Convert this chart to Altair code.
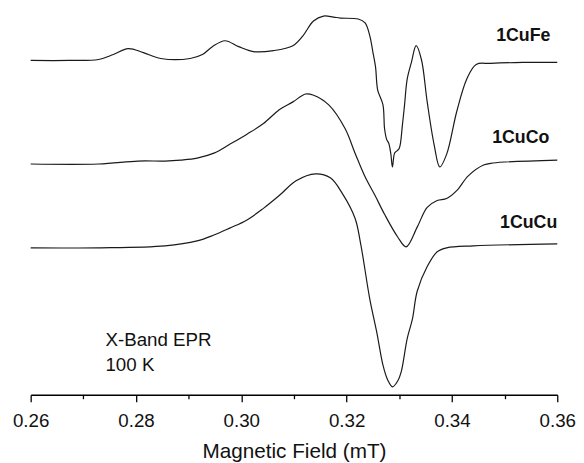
import altair as alt
import pandas as pd

# ---- data (field in mT, signal in arbitrary units) ----
fe_field = [0.2600, 0.2673, 0.2729, 0.2757, 0.2785, 0.2814, 0.2847, 0.2903, 0.2926, 0.2945,
            0.2969, 0.2995, 0.3023, 0.3061, 0.3098, 0.3117, 0.3137, 0.3156, 0.3175, 0.3188,
            0.3222, 0.3235, 0.3244, 0.3250, 0.3255, 0.3259, 0.3269, 0.3272, 0.3276, 0.3280,
            0.3284, 0.3287, 0.3291, 0.3295, 0.3300, 0.3306, 0.3310, 0.3315, 0.3323, 0.3332,
            0.3342, 0.3353, 0.3366, 0.3377, 0.3390, 0.3409, 0.3428, 0.3446, 0.3473, 0.3534,
            0.3600]
fe_signal = [0, 0, 1, 6, 12, 8, 2, 2, 6, 14,
             20, 14, 9, 10, 15, 25, 40, 45, 44, 43,
             42, 38, 25, 8, -7, -30, -45, -69, -80, -84,
             -95, -108, -94, -92, -89, -65, -45, -19, -2, 15,
             1, -42, -85, -108, -95, -52, -19, -4, -3, -2,
             -2]

co_field = [0.2600, 0.2729, 0.2804, 0.2855, 0.2885, 0.2916, 0.2948, 0.2978, 0.3010, 0.3042,
            0.3072, 0.3098, 0.3122, 0.3136, 0.3166, 0.3197, 0.3216, 0.3235, 0.3254, 0.3272,
            0.3297, 0.3313, 0.3334, 0.3353, 0.3372, 0.3390, 0.3409, 0.3431, 0.3460, 0.3478,
            0.3600]
co_signal = [0, 0, 3, 3, 4, 6, 11, 20, 30, 41,
             55, 63, 71, 70, 60, 36, 11, -13, -32, -51,
             -74, -84, -64, -44, -37, -35, -27, -12, -1, 1,
             4]

cu_field = [0.2600, 0.2729, 0.2855, 0.2916, 0.2948, 0.2978, 0.3010, 0.3042, 0.3072, 0.3104,
            0.3141, 0.3169, 0.3192, 0.3216, 0.3227, 0.3244, 0.3257, 0.3269, 0.3278, 0.3287,
            0.3297, 0.3304, 0.3315, 0.3325, 0.3334, 0.3353, 0.3372, 0.3390, 0.3441, 0.3600]
cu_signal = [0, 0, 2, 7, 13, 20, 28, 40, 53, 68,
             75, 71, 55, 30, 3, -52, -85, -119, -134, -141,
             -135, -125, -92, -72, -44, -19, -4, 0, 2, 4]

samples = ["1CuFe", "1CuCo", "1CuCu"]
offsets = [339, 234, 149]

label_field = [0.3587, 0.3585, 0.3600]
label_y = [364, 260, 174]

note_text = ["X-Band EPR", "100 K"]
note_field = [0.2742, 0.2742]
note_y = [55, 30]

major_ticks = [0.26, 0.28, 0.30, 0.32, 0.34, 0.36]
minor_ticks = [0.27, 0.29, 0.31, 0.33, 0.35]

# ---- tables ----
rows = []
for name, off, fx, sy in zip(samples, offsets,
                             [fe_field, co_field, cu_field],
                             [fe_signal, co_signal, cu_signal]):
    for i, (f, s) in enumerate(zip(fx, sy)):
        rows.append({"sample": name, "order": i, "field": f, "intensity": s + off})
spectra = pd.DataFrame(rows)
labels = pd.DataFrame({"sample": samples, "field": label_field, "intensity": label_y})
notes = pd.DataFrame({"text": note_text, "field": note_field, "intensity": note_y})

FONT = "Liberation Sans"
xscale = alt.Scale(domain=[0.26, 0.36], nice=False, zero=False)
yscale = alt.Scale(domain=[0, 389], nice=False, zero=False)

lines = alt.Chart(spectra).mark_line(
    color="#1a1a1a", strokeWidth=1.2, interpolate="catmull-rom"
).encode(
    x=alt.X("field:Q", scale=xscale,
            axis=alt.Axis(values=major_ticks, format=".2f", tickSize=7, tickWidth=1.3,
                          domainWidth=1.3, domainColor="black", tickColor="black",
                          labelFont=FONT, labelFontSize=19, labelColor="#111",
                          labelFlush=False, labelPadding=10, grid=False, orient="bottom",
                          title="Magnetic Field (mT)", titleFont=FONT, titleFontSize=21,
                          titleFontWeight="normal", titleColor="#111", titlePadding=11)),
    y=alt.Y("intensity:Q", scale=yscale, axis=None),
    detail="sample:N",
    order="order:Q",
)

minor = alt.Chart(spectra).mark_line(opacity=0).encode(
    x=alt.X("field:Q", scale=xscale,
            axis=alt.Axis(values=minor_ticks, labels=False, tickSize=4, tickWidth=1.3,
                          tickColor="black", domain=False, grid=False, title=None,
                          orient="bottom")),
    y=alt.Y("intensity:Q", scale=yscale, axis=None),
    detail="sample:N",
)

label_marks = alt.Chart(labels).mark_text(
    align="right", baseline="middle", font=FONT, fontSize=18, fontWeight="bold", color="#111"
).encode(
    x=alt.X("field:Q", scale=xscale, axis=None),
    y=alt.Y("intensity:Q", scale=yscale, axis=None),
    text="sample:N",
)

note_marks = alt.Chart(notes).mark_text(
    align="left", baseline="middle", font=FONT, fontSize=19, color="#111"
).encode(
    x=alt.X("field:Q", scale=xscale, axis=None),
    y=alt.Y("intensity:Q", scale=yscale, axis=None),
    text="text:N",
)

chart = alt.layer(lines, minor, label_marks, note_marks).resolve_axis(
    x="independent"
).properties(
    width=534, height=389,
    autosize=alt.AutoSizeParams(type="none"),
    padding={"left": 23, "top": 0, "right": 19, "bottom": 66},
).configure_view(stroke=None)

chart.save("out.html", embed_options={"renderer": "svg", "actions": False})
